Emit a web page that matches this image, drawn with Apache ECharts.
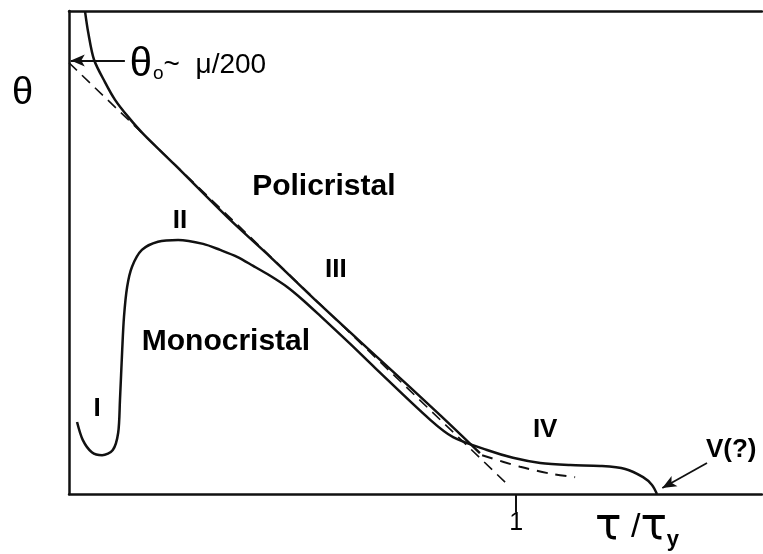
<!DOCTYPE html>
<html>
<head>
<meta charset="utf-8">
<script src="https://cdn.jsdelivr.net/npm/echarts@6/dist/echarts.min.js"></script>
<style>
  html, body { margin: 0; padding: 0; background: #fff; }
  #chart { width: 763px; height: 554px; }
</style>
</head>
<body>
<div id="chart"></div>
<script>
// x = tau / tau_y, y = theta / theta_0
const POLY_X = [0.036, 0.043, 0.056, 0.081, 0.103, 0.132, 0.166, 0.237, 0.360, 0.450, 0.562, 0.696, 0.830, 0.919]
const POLY_Y = [1.118, 1.070, 1.007, 0.954, 0.914, 0.875, 0.835, 0.763, 0.636, 0.550, 0.439, 0.311, 0.183, 0.095]

const MONO_X = [0.018, 0.031, 0.051, 0.074, 0.098, 0.110, 0.114, 0.119, 0.123, 0.130, 0.141, 0.163, 0.199, 0.244, 0.300, 0.338, 0.376, 0.412, 0.450, 0.488, 0.523, 0.562, 0.629, 0.685, 0.808, 0.859, 0.935, 0.993, 1.054, 1.121, 1.188, 1.244, 1.284, 1.304, 1.315]
const MONO_Y = [0.167, 0.125, 0.097, 0.090, 0.102, 0.142, 0.218, 0.334, 0.411, 0.480, 0.527, 0.566, 0.585, 0.589, 0.580, 0.566, 0.550, 0.529, 0.506, 0.480, 0.450, 0.413, 0.348, 0.292, 0.172, 0.132, 0.102, 0.084, 0.072, 0.067, 0.065, 0.058, 0.039, 0.021, 0]

// stage III extrapolation (Voce line) and stage III-without-IV continuation
const VOCE_X = [0, 0.980]
const VOCE_Y = [1.0, 0.023]
const TAIL_X = [0.924, 1.009, 1.083, 1.132]
const TAIL_Y = [0.090, 0.063, 0.046, 0.039]

const LABEL_TEXT = ['Policristal', 'Monocristal', 'I', 'II', 'III', 'IV', 'V(?)']
const LABEL_X = [0.570, 0.351, 0.063, 0.248, 0.597, 1.065, 1.481]
const LABEL_Y = [0.712, 0.353, 0.197, 0.633, 0.520, 0.148, 0.102]

// arrows: [fromX, fromY, toX, toY]
const ARROW_THETA0 = [0.125, 1.005, 0.004, 1.005]
const ARROW_V = [1.427, 0.072, 1.327, 0.014]
const THETA0_POS = [0.136, 0.995]

const X_TICKS = [1]

const zip = (xs, ys) => xs.map((x, i) => [x, ys[i]])
const INK = '#000'
const LINE = '#111'
const SANS = '"Liberation Sans", Arial, sans-serif'

const chart = echarts.init(document.getElementById('chart'))

const arrow = a => [{ coord: [a[0], a[1]] }, { coord: [a[2], a[3]] }]

chart.setOption({
  animation: false,
  grid: { left: 69, right: 1, top: 11, bottom: 60, outerBoundsMode: 'none' },
  xAxis: [
    {
      type: 'value',
      min: 0,
      max: 1.55,
      position: 'bottom',
      axisLine: { lineStyle: { color: LINE, width: 2.5 } },
      axisTick: { show: true, customValues: X_TICKS, length: 18, lineStyle: { color: LINE, width: 2 } },
      axisLabel: { show: true, customValues: X_TICKS, margin: 17, color: INK, fontSize: 25, fontFamily: SANS },
      splitLine: { show: false }
    },
    {
      type: 'value',
      min: 0,
      max: 1.55,
      position: 'top',
      axisLine: { lineStyle: { color: LINE, width: 2.5 } },
      axisTick: { show: false },
      axisLabel: { show: false },
      splitLine: { show: false }
    }
  ],
  yAxis: {
    type: 'value',
    min: 0,
    max: 1.12,
    axisLine: { show: true, lineStyle: { color: LINE, width: 2.5 } },
    axisTick: { show: false },
    axisLabel: { show: false },
    splitLine: { show: false }
  },
  graphic: [
    {
      type: 'text',
      left: 12,
      top: 75,
      style: { text: 'θ', fill: INK, font: '38px ' + SANS }
    },
    {
      type: 'text',
      left: 595,
      top: 506,
      style: {
        text: '{t|τ}{s| /}{t|τ}{y|y}',
        fill: INK,
        rich: {
          t: { fontSize: 44, fontFamily: '"DejaVu Sans", sans-serif', color: INK },
          s: { fontSize: 34, fontFamily: SANS, color: INK },
          y: { fontSize: 22, fontFamily: SANS, fontWeight: 'bold', color: INK, padding: [24, 0, 0, 0] }
        }
      }
    }
  ],
  series: [
    {
      name: 'Voce',
      type: 'line',
      data: zip(VOCE_X, VOCE_Y),
      symbol: 'none',
      lineStyle: { color: LINE, width: 1.6, type: [11, 7] },
      z: 2
    },
    {
      name: 'Tail',
      type: 'line',
      data: zip(TAIL_X, TAIL_Y),
      symbol: 'none',
      smooth: 0.3,
      lineStyle: { color: LINE, width: 2, type: [11, 8] },
      z: 2,
      markLine: {
        silent: true,
        symbol: ['none', 'arrow'],
        symbolSize: [9, 14],
        label: { show: false },
        lineStyle: { color: LINE, width: 1.8, type: 'solid' },
        data: [arrow(ARROW_THETA0), arrow(ARROW_V)]
      }
    },
    {
      name: 'Policristal',
      type: 'line',
      data: zip(POLY_X, POLY_Y),
      symbol: 'none',
      smooth: 0.3,
      lineStyle: { color: LINE, width: 2.5 },
      z: 3
    },
    {
      name: 'Monocristal',
      type: 'line',
      data: zip(MONO_X, MONO_Y),
      symbol: 'none',
      smooth: 0.3,
      lineStyle: { color: LINE, width: 2.5 },
      z: 3
    },
    {
      name: 'labels',
      type: 'scatter',
      symbolSize: 0,
      silent: true,
      itemStyle: { opacity: 1 },
      z: 4,
      data: LABEL_TEXT.map((text, i) => ({
        value: [LABEL_X[i], LABEL_Y[i]],
        label: {
          show: true,
          position: 'inside',
          formatter: text,
          color: INK,
          opacity: 1,
          textBorderWidth: 0,
          fontFamily: SANS,
          fontWeight: 'bold',
          fontSize: text.length > 4 ? 30 : 26
        }
      })).concat([{
        value: THETA0_POS,
        label: {
          show: true,
          position: 'right',
          distance: 0,
          color: INK,
          opacity: 1,
          textBorderWidth: 0,
          formatter: '{t|θ}{o|o}{r|~  μ/200}',
          rich: {
            t: { fontSize: 40, fontFamily: SANS, color: INK },
            o: { fontSize: 19, fontFamily: SANS, color: INK, padding: [18, 0, 0, 1] },
            r: { fontSize: 28, fontFamily: SANS, color: INK }
          }
        }
      }])
    }
  ]
})
</script>
</body>
</html>
